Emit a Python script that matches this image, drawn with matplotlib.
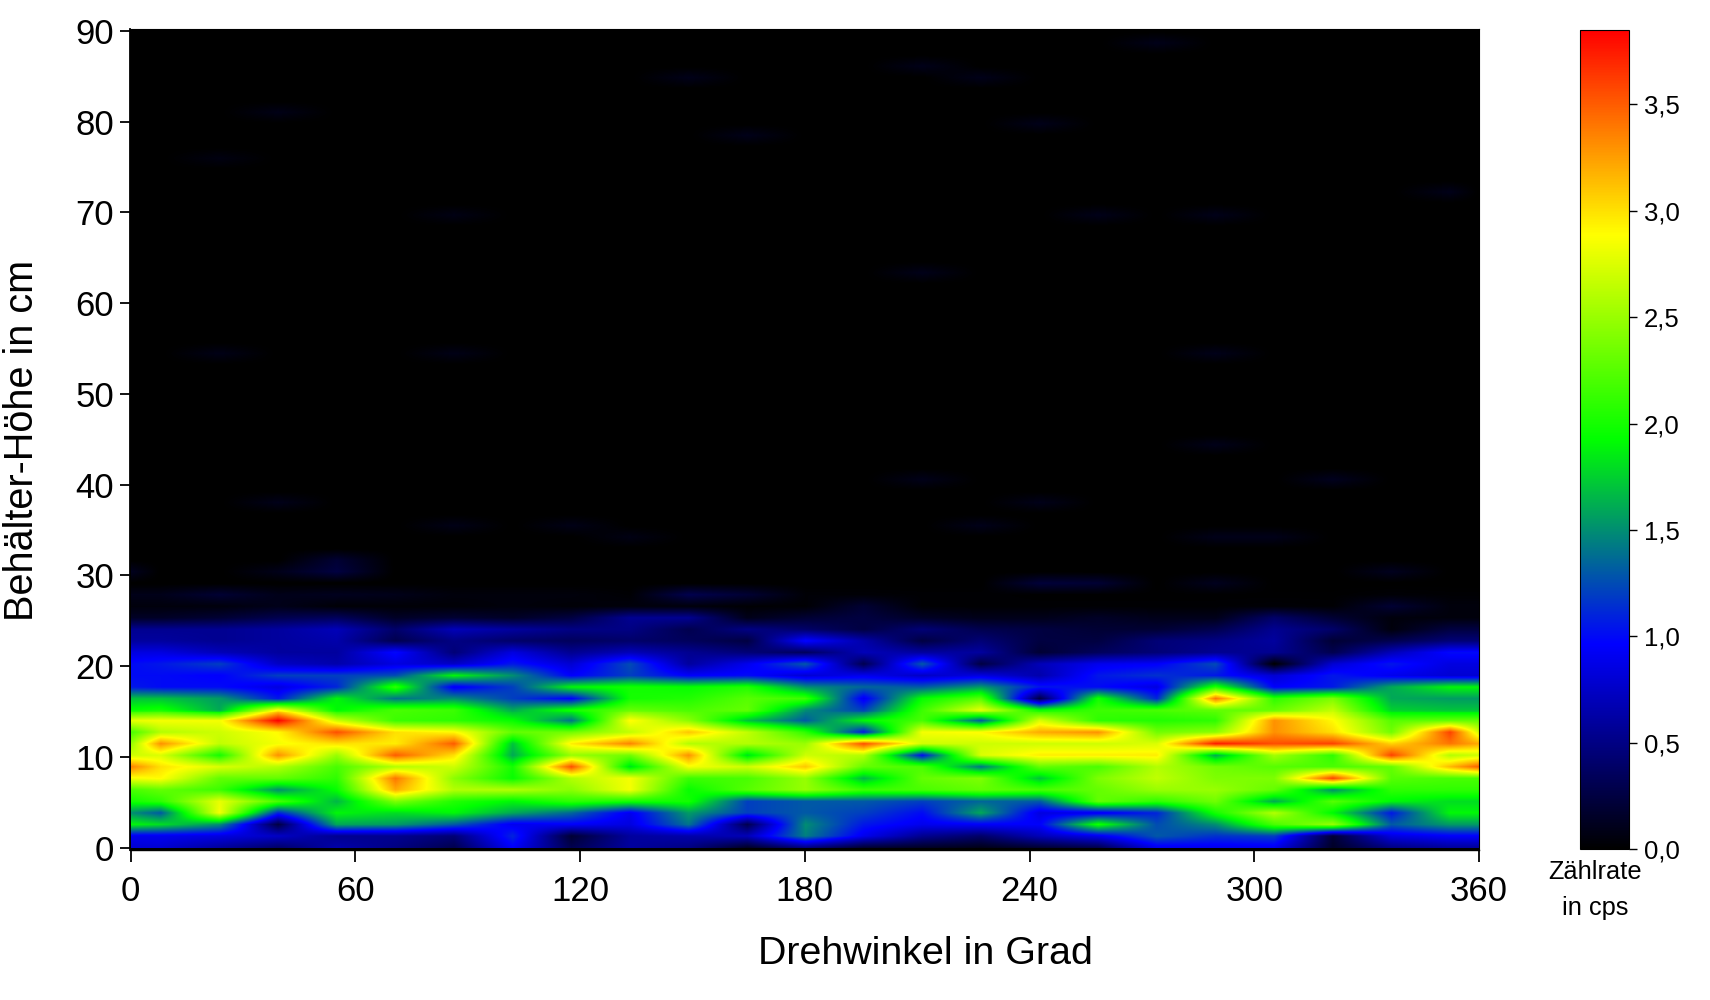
import numpy as np
import matplotlib
matplotlib.use("Agg")
import matplotlib.pyplot as plt
from matplotlib.colors import LinearSegmentedColormap, Normalize
from matplotlib.cm import ScalarMappable
from matplotlib.ticker import FuncFormatter

plt.rcParams['font.family'] = ['Liberation Sans', 'DejaVu Sans']

# Messraster
winkel = [0, 7.83, 23.48, 39.13, 54.78, 70.43, 86.09, 101.74, 117.39, 133.04, 148.7, 164.35,
          180, 195.65, 211.3, 226.96, 242.61, 258.26, 273.91, 289.57, 305.22, 320.87, 336.52,
          352.17, 360]
hoehe = [i * 90 / 71 for i in range(72)]

# Zaehlraten je Drehwinkel, von unten (0 cm) bis ca. 28 cm
w000 = [.8, .9, 1.9, 1.5, 2.0, 2.2, 2.85, 3.35, 2.7, 2.5, 2.2, 2.8, 1.95, 1.7, 1.05, 1.0, 1.0, .85, .6, .55, .15, .05, .1]
w008 = [.8, .9, 1.8, 1.3, 2.1, 2.3, 2.9, 3.0, 2.75, 3.3, 2.6, 2.85, 2.0, 1.7, 1.0, 1.0, 1.05, .85, .6, .55, .15, .05, .1]
w023 = [.6, .85, 1.5, 2.85, 2.8, 2.15, 2.3, 2.75, 2.0, 2.65, 2.7, 2.85, 1.6, 1.55, 1.0, .95, 1.2, .7, .55, .55, .2, .05, .12]
w039 = [.4, .75, .25, 1.1, 2.2, 1.5, 2.3, 2.6, 3.3, 2.85, 2.9, 3.85, 2.9, 1.05, .85, 1.2, .75, .6, .6, .6, .3, .1, .1]
w055 = [.65, .55, 1.6, 1.9, 1.65, 1.95, 2.1, 2.2, 2.5, 3.0, 3.55, 2.7, 1.9, 1.9, 1.1, 1.2, .65, .6, .65, .7, .35, .03, .12]
w070 = [.5, .55, 1.55, 1.8, 2.4, 3.2, 3.4, 2.6, 3.5, 2.95, 3.0, 2.15, 2.2, 1.4, 2.1, 1.25, .85, 1.0, .3, .4, .15, .03, .1]
w086 = [.3, .45, 1.3, 1.9, 2.05, 2.6, 2.45, 2.7, 3.0, 3.5, 2.9, 2.1, 2.15, 1.5, .9, 1.9, .75, .45, .5, .7, .2, .03, .05]
w102 = [.95, 1.1, .9, 1.6, 1.9, 2.6, 1.95, 2.0, 1.6, 1.7, 2.3, 1.95, 1.6, 1.2, 1.2, 1.5, 1.05, .85, .4, .6, .15, .05, .05]
w117 = [.3, .2, .95, 1.35, 2.1, 2.45, 2.6, 3.55, 2.5, 2.95, 2.35, 1.4, 2.0, .95, 1.9, .95, .8, .55, .35, .5, .25, .03, .05]
w133 = [.6, .6, .85, .9, 2.0, 2.85, 2.85, 1.8, 2.35, 3.35, 2.65, 2.9, 2.3, 2.0, 2.0, 1.2, 1.25, .7, .4, .5, .55, .05, .02]
w149 = [.5, .65, 1.4, 1.55, 2.0, 1.95, 2.15, 2.85, 3.3, 2.6, 3.1, 2.45, 2.2, 2.05, 1.95, .95, .6, .55, .35, .3, .55, .05, .03]
w164 = [.15, .7, .3, 1.2, 1.2, 2.25, 2.2, 2.7, 1.8, 2.6, 2.65, 1.7, 2.3, 2.25, 2.05, 1.0, .9, .45, .25, .5, .1, .02, .03]
w180 = [.5, 1.45, 1.5, 1.3, 1.3, 2.5, 2.5, 3.1, 2.7, 2.5, 2.1, 1.3, 1.5, 2.15, 1.5, .8, 1.3, .35, 1.0, .4, .2, .02, .03]
w196 = [.2, .9, 1.05, 1.2, 1.3, 2.15, 1.65, 2.3, 2.6, 3.55, 1.05, 1.9, 1.2, .9, 1.35, .9, .3, .7, .65, .25, .25, .02, .03]
w211 = [.15, .55, .9, 1.0, 1.2, 2.2, 2.3, 2.2, 1.0, 2.7, 2.85, 2.2, 2.15, 1.95, 1.3, .75, 1.3, .6, .25, .45, .15, .02, .02]
w227 = [.1, .4, .95, 1.6, 1.35, 2.3, 2.4, 1.4, 2.75, 2.7, 2.9, 1.3, 2.8, 2.25, 1.55, .85, .25, .6, .45, .3, .1, .02, .02]
w243 = [.2, .7, .95, .85, 1.3, 2.2, 1.7, 2.3, 2.95, 2.7, 3.2, 2.75, 1.95, .25, 1.05, .65, .7, .2, .25, .25, .1, .02, .01]
w258 = [.3, .9, 2.0, .9, 2.3, 2.3, 2.4, 2.2, 2.95, 2.7, 3.3, 2.1, 2.15, 2.0, 1.0, 1.05, .9, .35, .25, .2, .15, .02, .01]
w274 = [.9, 1.3, 1.25, 1.1, 2.1, 2.5, 2.65, 2.6, 2.95, 2.75, 2.35, 2.05, 2.2, 1.1, .85, 1.15, .95, .45, .45, .2, .1, .02, .01]
w290 = [.9, 1.15, 1.5, 2.0, 2.35, 2.5, 2.4, 2.35, 1.6, 3.75, 2.45, 2.1, 2.3, 3.4, 2.05, 1.05, 1.25, .55, .5, .3, .1, .02, .01]
w305 = [.9, 1.2, 2.2, 2.6, 1.6, 2.3, 2.4, 2.25, 2.55, 3.55, 3.3, 3.3, 2.3, 2.1, .95, .8, 0, .55, .6, .55, .4, .03, .01]
w321 = [.15, .2, 2.5, 1.9, 2.25, 1.5, 3.6, 2.2, 2.1, 3.6, 3.0, 2.9, 2.65, 2.4, 1.05, 1.05, .8, .3, .2, .4, .2, .02, .01]
w337 = [.5, .85, 1.3, 1.05, 1.9, 2.1, 2.25, 2.3, 3.6, 3.05, 2.35, 2.25, 1.75, 1.6, 1.6, .9, 1.05, .7, .3, .05, .05, .05, .03]
w352 = [.6, .95, 1.55, 1.9, 1.8, 2.1, 2.2, 3.15, 2.6, 3.4, 3.6, 2.3, 1.7, 1.55, 1.9, .8, .85, 1.0, .45, .25, .05, .05, .02]
w360 = [.6, .95, 1.55, 1.9, 1.8, 2.1, 2.2, 3.5, 2.7, 3.2, 2.7, 2.3, 1.7, 1.55, 1.9, .8, .85, 1.0, .45, .25, .05, .05, .02]
spalten = [w000, w008, w023, w039, w055, w070, w086, w102, w117, w133, w149, w164,
           w180, w196, w211, w227, w243, w258, w274, w290, w305, w321, w337, w352, w360]

# schwache Flecken im oberen Bereich
fleck_winkel = [275, 150, 211, 227, 39, 242, 25, 165, 352, 86, 258, 290, 211, 25, 86, 290, 290, 211, 321, 243,
                39, 86, 117, 227, 133, 290, 305, 55, 55, 0, 149, 164, 23, 243, 258, 290, 337, 337, 39, 196]
fleck_hoehe = [88.7, 84.9, 86, 85, 81.3, 80, 76.3, 79, 72.7, 70, 70, 70, 63.8, 54, 54, 55, 43.8, 40, 40, 38.6,
               37.5, 36, 36, 36, 33.7, 33.7, 34.8, 31.5, 30.4, 30.4, 28.4, 27.9, 27.9, 29.2, 29.2, 29.2, 30.4, 26.6, 30.4, 26.6]
fleck_wert = [.1, .1, .1, .1, .09, .1, .07, .1, .1, .08, .1, .1, .1, .09, .09, .1, .1, .1, .12, .1,
              .1, .09, .09, .1, .08, .1, .1, .2, .25, .12, .3, .2, .2, .22, .2, .12, .12, .2, .1, .2]

# Achsen und Farbskala
x_ticks = [0, 60, 120, 180, 240, 300, 360]
y_ticks = [0, 10, 20, 30, 40, 50, 60, 70, 80, 90]
cb_ticks = [0.0, 0.5, 1.0, 1.5, 2.0, 2.5, 3.0, 3.5]
cb_max = 3.85

z = np.zeros((len(hoehe), len(winkel)))
z[:len(w000), :] = np.array(spalten).T
for w, h, v in zip(fleck_winkel, fleck_hoehe, fleck_wert):
    i = np.argmin(np.abs(np.array(hoehe) - h))
    j = np.argmin(np.abs(np.array(winkel) - w))
    z[i, j] = max(z[i, j], v)

# auf Pixelraster bringen (bilinear), Farbe erst danach
x_fein = np.linspace(0, 360, 1350)
y_fein = np.linspace(0, 90, 820)
z_x = np.array([np.interp(x_fein, winkel, zeile) for zeile in z])
z_fein = np.array([np.interp(y_fein, hoehe, z_x[:, j]) for j in range(len(x_fein))]).T

cmap = LinearSegmentedColormap.from_list('zaehlrate', ['#000000', '#0000ff', '#00ff00', '#ffff00', '#ff0000'], N=512)
norm = Normalize(0, cb_max)

W, H = 1710, 1000
fig = plt.figure(figsize=(W / 100, H / 100), dpi=100, facecolor='white')
ax = fig.add_axes([129.5 / W, 1 - 849.5 / H, 1349.5 / W, 820.5 / H], facecolor='black')

ax.imshow(z_fein, origin='lower', extent=(0, 360, 0, 90), aspect='auto', cmap=cmap, norm=norm,
          interpolation='nearest')
ax.set_xlim(-0.3, 360.0)
ax.set_ylim(-0.2, 90.2)
ax.set_xticks(x_ticks)
ax.set_yticks(y_ticks)
ax.tick_params(axis='x', length=8.6, width=1.3, labelsize=25, pad=10)
ax.tick_params(axis='y', length=7.2, width=1.3, labelsize=25, pad=4)
ax.spines['left'].set_linewidth(1.3)
ax.spines['bottom'].set_linewidth(1)
ax.spines['top'].set_linewidth(0.8)
ax.spines['right'].set_linewidth(0.8)

fig.text(925 / W, 1 - 954 / H, 'Drehwinkel in Grad', fontsize=28.4, ha='center', va='center')
fig.text(22 / W, 1 - 440 / H, 'Behälter-Höhe in cm', fontsize=28.5, rotation=90, ha='center', va='center')

# Farbskala
cax = fig.add_axes([1580 / W, 1 - 849 / H, 49 / W, 819 / H])
cb = fig.colorbar(ScalarMappable(norm=norm, cmap=cmap), cax=cax)
cb.set_ticks(cb_ticks)
cb.ax.yaxis.set_major_formatter(FuncFormatter(lambda v, p: f'{v:.1f}'.replace('.', ',')))
cb.ax.tick_params(length=5.5, width=1, labelsize=18.5, pad=5)
cb.outline.set_linewidth(0.8)

fig.text(1595 / W, 1 - 872 / H, 'Zählrate', fontsize=18.3, ha='center', va='center')
fig.text(1595 / W, 1 - 908 / H, 'in cps', fontsize=18.3, ha='center', va='center')

fig.savefig('out.png', dpi=100)
